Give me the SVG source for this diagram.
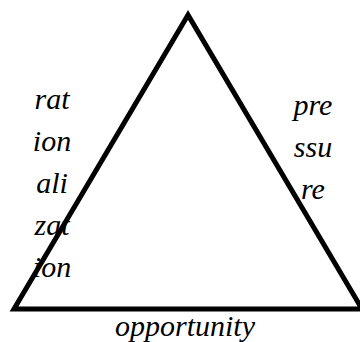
<svg xmlns="http://www.w3.org/2000/svg" width="360" height="342" viewBox="0 0 360 342">
<style>
.lbl{font-family:"Liberation Serif","Times New Roman",serif;font-style:italic;font-size:30px;fill:#000;text-anchor:middle}
.tri{fill:none;stroke:#000;stroke-width:5;stroke-linejoin:miter;stroke-miterlimit:10}
</style>
<rect width="360" height="342" fill="#fff"/>
<g id="rationalization">
<text class="lbl" x="52" y="109">rat</text>
<text class="lbl" x="52" y="151">ion</text>
<text class="lbl" x="52" y="193">ali</text>
<text class="lbl" x="52" y="235">zat</text>
<text class="lbl" x="52" y="277">ion</text>
</g>
<g id="pressure">
<text class="lbl" x="313" y="115">pre</text>
<text class="lbl" x="313" y="157">ssu</text>
<text class="lbl" x="313" y="199">re</text>
</g>
<g id="opportunity">
<text class="lbl" x="185" y="336">opportunity</text>
</g>
<g id="connectors">
<polygon class="tri" points="188,15 14,309 362,309"/>
</g>
</svg>
